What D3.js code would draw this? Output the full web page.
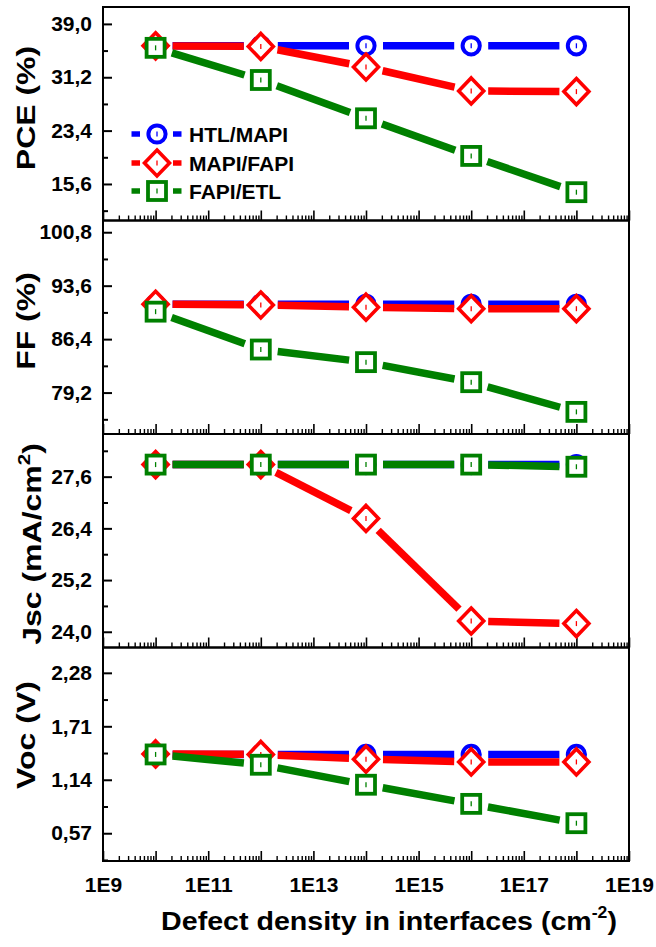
<!DOCTYPE html>
<html>
<head>
<meta charset="utf-8">
<script src="https://cdn.jsdelivr.net/npm/d3@7"></script>
<style>
  html, body { margin: 0; padding: 0; background: #fff; }
  svg { display: block; }
  text { font-family: "Liberation Sans", Arial, sans-serif; font-weight: bold; fill: #000; }
</style>
</head>
<body>
<svg id="chart" width="656" height="947"></svg>
<script>
// ---------- Data ----------
const densities = [1e10, 1e12, 1e14, 1e16, 1e18];
const seriesNames = ["HTL/MAPI", "MAPI/FAPI", "FAPI/ETL"];

const pceHTL  = [35.8, 35.8, 35.8, 35.8, 35.8];
const pceMAPI = [35.8, 35.7, 32.7, 29.2, 29.1];
const pceFAPI = [35.5, 30.8, 25.2, 19.7, 14.4];

const ffHTL  = [91.1, 91.1, 91.1, 91.1, 91.1];
const ffMAPI = [91.1, 91.0, 90.7, 90.5, 90.5];
const ffFAPI = [90.1, 85.0, 83.3, 80.6, 76.6];

const jscHTL  = [27.88, 27.88, 27.88, 27.88, 27.88];
const jscMAPI = [27.88, 27.88, 26.63, 24.25, 24.19];
const jscFAPI = [27.88, 27.88, 27.88, 27.88, 27.83];

const vocHTL  = [1.41, 1.41, 1.41, 1.41, 1.41];
const vocMAPI = [1.415, 1.41, 1.36, 1.33, 1.33];
const vocFAPI = [1.41, 1.30, 1.087, 0.883, 0.677];

const pceTicks = [15.6, 23.4, 31.2, 39.0];
const ffTicks  = [79.2, 86.4, 93.6, 100.8];
const jscTicks = [24.0, 25.2, 26.4, 27.6];
const vocTicks = [0.57, 1.14, 1.71, 2.28];

const xLabelTicks = [1e9, 1e11, 1e13, 1e15, 1e17, 1e19];

// ---------- Layout ----------
const svg = d3.select("#chart");
const left = 103, right = 629;
const top0 = 7, panelH = 213.5;

const colors = ["#0000ff", "#ff0000", "#008000"];
const symbols = ["circle", "diamond", "square"];

const x = d3.scaleLog().domain([1e9, 1e19]).range([left, right]);

const panels = [
  { title: "PCE (%)", domain: [10.26, 41.47], ticks: pceTicks, fmt: ".1f", series: [pceHTL, pceMAPI, pceFAPI], tx: 35, ty: 108 },
  { title: "FF (%)", domain: [73.62, 102.38], ticks: ffTicks, fmt: ".1f", series: [ffHTL, ffMAPI, ffFAPI], tx: 35, ty: 321 },
  { title: "Jsc", domain: [23.635, 28.59], ticks: jscTicks, fmt: ".1f", series: [jscHTL, jscMAPI, jscFAPI], tx: 41, ty: 544 },
  { title: "Voc (V)", domain: [0.274, 2.55], ticks: vocTicks, fmt: ".2f", series: [vocHTL, vocMAPI, vocFAPI], tx: 35, ty: 735 }
];

const majorX = d3.range(9, 20).map(e => Math.pow(10, e));
const minorX = [];
for (let e = 9; e < 19; e++) for (let m = 2; m <= 9; m++) minorX.push(m * Math.pow(10, e));

function drawMarker(g, type, cx, cy, color) {
  const m = g.append("g").attr("transform", `translate(${cx},${cy})`);
  if (type === "circle") {
    m.append("circle").attr("r", 8.6).attr("fill", "#fff").attr("stroke", color).attr("stroke-width", 4);
  } else if (type === "diamond") {
    m.append("path").attr("d", "M0,-13L12.5,0L0,13L-12.5,0Z")
      .attr("fill", "#fff").attr("stroke", color).attr("stroke-width", 3.6).attr("stroke-linejoin", "miter");
  } else {
    m.append("rect").attr("x", -9).attr("y", -9).attr("width", 18).attr("height", 18)
      .attr("fill", "#fff").attr("stroke", color).attr("stroke-width", 3.8);
  }
  m.append("line").attr("x1", 0).attr("x2", 0).attr("y1", -2.5).attr("y2", 2.5)
    .attr("stroke", color).attr("stroke-width", 1.3);
}

panels.forEach((p, i) => {
  const y0 = top0 + i * panelH, y1 = y0 + panelH;
  const y = d3.scaleLinear().domain(p.domain).range([y1, y0]);
  const g = svg.append("g");

  // minor y ticks (midpoints)
  const step = p.ticks[1] - p.ticks[0];
  const minorY = [];
  for (let k = -1; k < p.ticks.length; k++) {
    const v = p.ticks[0] + (k + 0.5) * step;
    if (v > p.domain[0] && v < p.domain[1]) minorY.push(v);
  }
  const fmt = d3.format(p.fmt);

  g.append("g").attr("transform", `translate(${left},0)`)
    .call(d3.axisLeft(y).tickValues(p.ticks).tickSize(-9).tickPadding(11).tickFormat(d => fmt(d).replace(".", ",")))
    .call(a => a.select(".domain").remove())
    .call(a => a.selectAll("line").attr("stroke-width", 2))
    .call(a => a.selectAll("text").attr("font-size", 21).attr("font-family", null));

  g.append("g").attr("transform", `translate(${left},0)`)
    .call(d3.axisLeft(y).tickValues(minorY).tickSize(-5).tickFormat(""))
    .call(a => a.select(".domain").remove())
    .call(a => a.selectAll("line").attr("stroke-width", 2));

  // bottom x ticks, inward
  g.append("g").attr("transform", `translate(0,${y1})`)
    .call(d3.axisBottom(x).tickValues(majorX).tickSize(-10).tickFormat(""))
    .call(a => a.select(".domain").remove())
    .call(a => a.selectAll("line").attr("stroke-width", 1.6));
  g.append("g").attr("transform", `translate(0,${y1})`)
    .call(d3.axisBottom(x).tickValues(minorX).tickSize(-5).tickFormat(""))
    .call(a => a.select(".domain").remove())
    .call(a => a.selectAll("line").attr("stroke-width", 1.4));

  // frame
  g.append("rect").attr("x", left).attr("y", y0).attr("width", right - left).attr("height", panelH)
    .attr("fill", "none").attr("stroke", "#000").attr("stroke-width", 2);

  // y title
  const t = g.append("text").attr("text-anchor", "middle").attr("font-size", 25)
    .attr("transform", `translate(${p.tx},${p.ty}) rotate(-90) scale(1.28,1)`);
  if (p.title === "Jsc") {
    t.append("tspan").text("Jsc (mA/cm");
    t.append("tspan").attr("font-size", 16).attr("dy", -11).text("2");
    t.append("tspan").attr("dy", 11).text(")");
  } else {
    t.text(p.title);
  }

  // series
  p.series.forEach((vals, s) => {
    const pts = vals.map((v, k) => [x(densities[k]), y(v)]);
    const gap = 17;
    for (let k = 0; k < pts.length - 1; k++) {
      const [ax, ay] = pts[k], [bx, by] = pts[k + 1];
      const dx = bx - ax, dy = by - ay, len = Math.hypot(dx, dy);
      if (len <= 2 * gap) continue;
      const ux = dx / len, uy = dy / len;
      g.append("line")
        .attr("x1", ax + ux * gap).attr("y1", ay + uy * gap)
        .attr("x2", bx - ux * gap).attr("y2", by - uy * gap)
        .attr("stroke", colors[s]).attr("stroke-width", 7.5);
    }
    pts.forEach(([px, py]) => drawMarker(g, symbols[s], px, py, colors[s]));
  });
});

// x tick labels on bottom panel
const bottomY = top0 + 4 * panelH;
svg.append("g").attr("transform", `translate(0,${bottomY})`)
  .call(d3.axisBottom(x).tickValues(xLabelTicks).tickSize(0).tickPadding(16)
    .tickFormat(d => "1E" + Math.round(Math.log10(d))))
  .call(a => a.select(".domain").remove())
  .call(a => a.selectAll("text").attr("font-size", 21).attr("font-family", null));

// x title
const xt = svg.append("text").attr("text-anchor", "middle").attr("font-size", 26)
  .attr("transform", `translate(389,930) scale(1.1,1)`);
xt.append("tspan").text("Defect density in interfaces (cm");
xt.append("tspan").attr("font-size", 16).attr("dy", -12).text("-2");
xt.append("tspan").attr("dy", 12).text(")");

// legend
const legRows = [134, 163, 191];
const leg = svg.append("g");
seriesNames.forEach((name, s) => {
  const ly = legRows[s];
  leg.append("line").attr("x1", 131.5).attr("x2", 140).attr("y1", ly).attr("y2", ly)
    .attr("stroke", colors[s]).attr("stroke-width", 5.5);
  leg.append("line").attr("x1", 173).attr("x2", 181.5).attr("y1", ly).attr("y2", ly)
    .attr("stroke", colors[s]).attr("stroke-width", 5.5);
  drawMarker(leg, symbols[s], 157, ly, colors[s]);
  leg.append("text").attr("x", 189).attr("y", ly).attr("dy", "0.36em").attr("font-size", 21).text(name);
});
</script>
</body>
</html>
